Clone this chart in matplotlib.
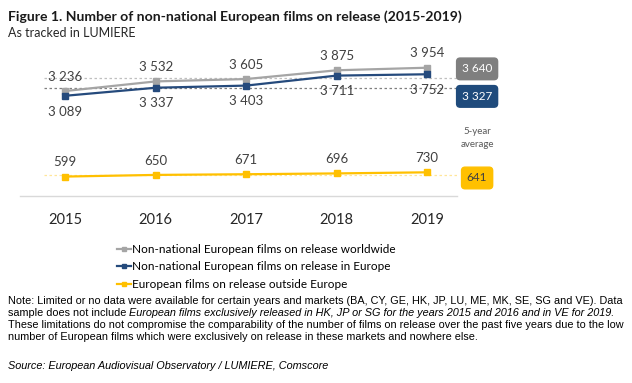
import numpy as np
import matplotlib
matplotlib.use("Agg")
import matplotlib.pyplot as plt
import matplotlib.transforms as mtransforms

# data
years = ["2015", "2016", "2017", "2018", "2019"]
worldwide = [3236, 3532, 3605, 3875, 3954]
in_europe = [3089, 3337, 3403, 3711, 3752]
outside_europe = [599, 650, 671, 696, 730]
averages = [3640, 3327, 641]
series_names = ["Non-national European films on release worldwide",
                "Non-national European films on release in Europe",
                "European films on release outside Europe"]

grey = "#A5A5A5"
blue = "#254A7C"
yellow = "#FFC000"
box_colors = ["#7F7F7F", "#1F4B7C", "#FFC000"]
box_text = ["white", "white", "#404040"]

plt.rcParams["font.family"] = ["Lato", "DejaVu Sans"]

fig = plt.figure(figsize=(6.32, 3.83), dpi=100)
ax = fig.add_axes([20/632, 1 - 196/383, 437/632, 146/383])

x = np.arange(len(years))
series = [worldwide, in_europe, outside_europe]
colors = [grey, blue, yellow]
for vals, c, name in zip(series, colors, series_names):
    ax.plot(x, vals, color=c, lw=1.6, marker="s", ms=4, label=name, zorder=3)

# value labels
for xi, v in zip(x, worldwide):
    ax.annotate(f"{v // 1000} {v % 1000:03d}", (xi, v), xytext=(0, 6), textcoords="offset points",
                ha="center", va="bottom", fontsize=9.5, color="#404040")
for xi, v in zip(x, in_europe):
    ax.annotate(f"{v // 1000} {v % 1000:03d}", (xi, v), xytext=(0, -7), textcoords="offset points",
                ha="center", va="top", fontsize=9.5, color="#404040")
for xi, v in zip(x, outside_europe):
    ax.annotate(str(v), (xi, v), xytext=(0, 6), textcoords="offset points",
                ha="center", va="bottom", fontsize=9.5, color="#404040")

# 5-year averages: dotted lines + boxes
trans = mtransforms.blended_transform_factory(ax.transAxes, ax.transData)
line_cols = ["#BFBFBF", "#7F7F7F", "#FFE699"]
box_offsets = [6.5, -6, -2]
for avg, lc, bc, tc, off in zip(averages, line_cols, box_colors, box_text, box_offsets):
    ax.plot([0.055, 1.0], [avg, avg], transform=trans, color=lc, lw=0.9,
            ls=(0, (2, 2)), clip_on=False, zorder=1)
    label = f"{avg // 1000} {avg % 1000:03d}" if avg >= 1000 else str(avg)
    ax.annotate(label, (1.046, avg), xycoords=trans, xytext=(0, off),
                textcoords="offset points", ha="center", va="center",
                fontsize=8.5, color=tc, annotation_clip=False,
                bbox=dict(boxstyle="round,pad=0.45,rounding_size=0.3", fc=bc, ec=bc))
fig.text(477/632, 1 - 138/383, "5-year\naverage", ha="center", va="center",
         fontsize=7, color="#595959", linespacing=1.5)

ax.set_xlim(-0.5, 4.33)
ax.set_ylim(0, 4500)
ax.set_xticks(x)
ax.set_xticklabels(years, fontsize=10.5, color="#262626")
ax.tick_params(axis="x", length=0, pad=12)
ax.set_yticks([])
for s in ["top", "right", "left"]:
    ax.spines[s].set_visible(False)
ax.spines["bottom"].set_color("#D9D9D9")
ax.spines["bottom"].set_linewidth(1.0)

fig.legend(loc="upper left", bbox_to_anchor=(112/632, 1 - 239/383), frameon=False,
           fontsize=8.5, handlelength=1.2, handletextpad=0.1, labelspacing=0.55,
           borderaxespad=0, markerscale=0.6)

fig.text(8/632, 1 - 17/383, "Figure 1. Number of non-national European films on release (2015-2019)",
         fontsize=10.1, fontweight="bold", va="center", color="#1a1a1a")
fig.text(8/632, 1 - 33/383, "As tracked in LUMIERE", fontsize=9, va="center", color="#262626")

note_font = ["Liberation Sans", "DejaVu Sans"]
nfs = 7.85
fig.text(8/632, 1 - 301/383,
         "Note: Limited or no data were available for certain years and markets (BA, CY, GE, HK, JP, LU, ME, MK, SE, SG and VE). Data",
         fontsize=nfs, family=note_font, va="center")
t1 = fig.text(8/632, 1 - 313/383, "sample does not include ", fontsize=nfs, family=note_font, va="center")
fig.canvas.draw()
bb = t1.get_window_extent()
fig.text(bb.x1 / fig.bbox.width, 1 - 313/383,
         "European films exclusively released in HK, JP or SG for the years 2015 and 2016 and in VE for 2019.",
         fontsize=nfs, family=note_font, style="italic", va="center")
fig.text(8/632, 1 - 325/383,
         "These limitations do not compromise the comparability of the number of films on release over the past five years due to the low",
         fontsize=nfs, family=note_font, va="center")
fig.text(8/632, 1 - 337/383,
         "number of European films which were exclusively on release in these markets and nowhere else.",
         fontsize=nfs, family=note_font, va="center")
fig.text(8/632, 1 - 366/383, "Source: European Audiovisual Observatory / LUMIERE, Comscore",
         fontsize=nfs, family=note_font, style="italic", va="center")

fig.savefig("out.png", dpi=100)
